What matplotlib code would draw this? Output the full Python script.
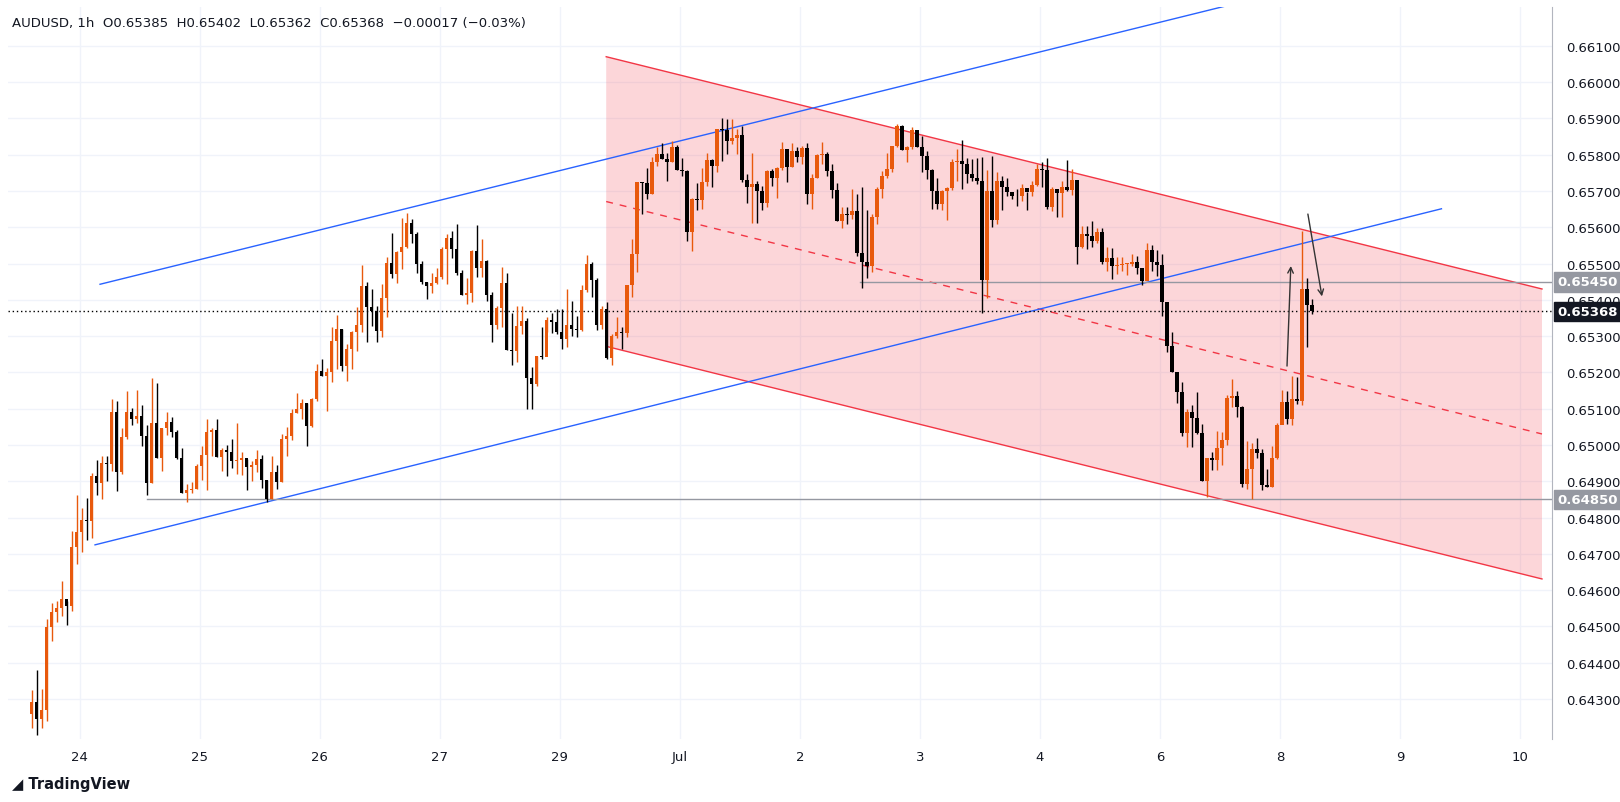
import numpy as np
import matplotlib
matplotlib.use("Agg")
import matplotlib.pyplot as plt
from matplotlib.patches import Polygon

# -- Data (AUDUSD 1h) ----------------------------------------------------------
CLOSE = [
    0.64291, 0.64246, 0.64270, 0.64498, 0.64539, 0.64550, 0.64576, 0.64556, 0.64718, 0.64760,
    0.64794, 0.64792, 0.64916, 0.64896, 0.64951, 0.64948, 0.65090, 0.64925, 0.65021, 0.65092,
    0.65072, 0.65079, 0.65026, 0.64896, 0.65061, 0.64965, 0.65047, 0.65064, 0.65037, 0.64964,
    0.64868, 0.64876, 0.64879, 0.64943, 0.64972, 0.65037, 0.65042, 0.64968, 0.64986, 0.64980,
    0.64957, 0.64959, 0.64965, 0.64940, 0.64946, 0.64961, 0.64905, 0.64851, 0.64925, 0.64899,
    0.65017, 0.65026, 0.65088, 0.65099, 0.65117, 0.65053, 0.65127, 0.65203, 0.65191, 0.65200,
    0.65287, 0.65321, 0.65218, 0.65264, 0.65312, 0.65330, 0.65439, 0.65379, 0.65370, 0.65315,
    0.65405, 0.65501, 0.65471, 0.65532, 0.65547, 0.65611, 0.65581, 0.65498, 0.65448, 0.65439,
    0.65446, 0.65462, 0.65540, 0.65570, 0.65540, 0.65475, 0.65413, 0.65420, 0.65535, 0.65487,
    0.65506, 0.65414, 0.65332, 0.65377, 0.65446, 0.65263, 0.65258, 0.65327, 0.65343, 0.65186,
    0.65168, 0.65244, 0.65242, 0.65344, 0.65340, 0.65312, 0.65292, 0.65330, 0.65320, 0.65318,
    0.65427, 0.65499, 0.65455, 0.65332, 0.65375, 0.65240, 0.65301, 0.65312, 0.65308, 0.65440,
    0.65526, 0.65724, 0.65721, 0.65693, 0.65781, 0.65802, 0.65788, 0.65781, 0.65820, 0.65758,
    0.65756, 0.65586, 0.65678, 0.65676, 0.65724, 0.65785, 0.65769, 0.65872, 0.65868, 0.65838,
    0.65847, 0.65854, 0.65731, 0.65710, 0.65719, 0.65701, 0.65668, 0.65756, 0.65735, 0.65763,
    0.65817, 0.65765, 0.65811, 0.65795, 0.65818, 0.65691, 0.65735, 0.65800, 0.65802, 0.65756,
    0.65703, 0.65618, 0.65636, 0.65634, 0.65644, 0.65529, 0.65505, 0.65494, 0.65627, 0.65705,
    0.65740, 0.65760, 0.65823, 0.65878, 0.65813, 0.65820, 0.65868, 0.65820, 0.65797, 0.65758,
    0.65701, 0.65664, 0.65701, 0.65707, 0.65780, 0.65782, 0.65774, 0.65746, 0.65735, 0.65728,
    0.65455, 0.65701, 0.65621, 0.65728, 0.65710, 0.65696, 0.65687, 0.65685, 0.65707, 0.65696,
    0.65716, 0.65760, 0.65758, 0.65655, 0.65705, 0.65694, 0.65712, 0.65703, 0.65730, 0.65546,
    0.65581, 0.65575, 0.65563, 0.65586, 0.65505, 0.65515, 0.65492, 0.65496, 0.65498, 0.65499,
    0.65505, 0.65487, 0.65453, 0.65538, 0.65505, 0.65497, 0.65393, 0.65274, 0.65202, 0.65147,
    0.65033, 0.65092, 0.65075, 0.65033, 0.64900, 0.64963, 0.64960, 0.64992, 0.65014, 0.65130,
    0.65136, 0.65104, 0.64894, 0.64934, 0.64989, 0.64978, 0.64890, 0.64885, 0.64963, 0.65055,
    0.65119, 0.65072, 0.65128, 0.65122, 0.65430, 0.65385, 0.65368,
]
HIGH = [
    0.64324, 0.64381, 0.64328, 0.64521, 0.64565, 0.64571, 0.64624, 0.64571, 0.64764, 0.64861,
    0.64827, 0.64854, 0.64922, 0.64959, 0.64971, 0.64971, 0.65127, 0.65122, 0.65047, 0.65150,
    0.65102, 0.65152, 0.65110, 0.65055, 0.65185, 0.65171, 0.65047, 0.65092, 0.65077, 0.65041,
    0.64991, 0.64893, 0.64897, 0.64948, 0.64998, 0.65072, 0.65046, 0.65072, 0.64992, 0.65000,
    0.65017, 0.65061, 0.64980, 0.64961, 0.64957, 0.64986, 0.64972, 0.64905, 0.64971, 0.64945,
    0.65030, 0.65050, 0.65099, 0.65143, 0.65127, 0.65117, 0.65129, 0.65223, 0.65237, 0.65211,
    0.65324, 0.65358, 0.65321, 0.65278, 0.65315, 0.65379, 0.65496, 0.65448, 0.65431, 0.65384,
    0.65443, 0.65517, 0.65584, 0.65535, 0.65625, 0.65639, 0.65622, 0.65587, 0.65508, 0.65448,
    0.65475, 0.65487, 0.65547, 0.65581, 0.65590, 0.65609, 0.65482, 0.65459, 0.65537, 0.65606,
    0.65567, 0.65510, 0.65422, 0.65384, 0.65491, 0.65474, 0.65363, 0.65384, 0.65384, 0.65349,
    0.65216, 0.65246, 0.65324, 0.65354, 0.65363, 0.65375, 0.65375, 0.65430, 0.65398, 0.65356,
    0.65442, 0.65523, 0.65503, 0.65460, 0.65384, 0.65395, 0.65306, 0.65352, 0.65324, 0.65441,
    0.65569, 0.65724, 0.65726, 0.65763, 0.65795, 0.65822, 0.65832, 0.65806, 0.65838, 0.65826,
    0.65792, 0.65758, 0.65681, 0.65722, 0.65763, 0.65806, 0.65788, 0.65872, 0.65902, 0.65898,
    0.65898, 0.65870, 0.65880, 0.65746, 0.65804, 0.65728, 0.65713, 0.65758, 0.65760, 0.65765,
    0.65834, 0.65813, 0.65831, 0.65822, 0.65824, 0.65831, 0.65746, 0.65802, 0.65834, 0.65808,
    0.65774, 0.65721, 0.65655, 0.65655, 0.65705, 0.65691, 0.65710, 0.65647, 0.65636, 0.65710,
    0.65756, 0.65806, 0.65823, 0.65884, 0.65881, 0.65824, 0.65875, 0.65864, 0.65852, 0.65809,
    0.65760, 0.65737, 0.65703, 0.65710, 0.65787, 0.65817, 0.65840, 0.65792, 0.65788, 0.65790,
    0.65795, 0.65758, 0.65797, 0.65753, 0.65742, 0.65735, 0.65698, 0.65705, 0.65719, 0.65698,
    0.65728, 0.65774, 0.65779, 0.65790, 0.65710, 0.65701, 0.65728, 0.65785, 0.65760, 0.65730,
    0.65604, 0.65604, 0.65616, 0.65597, 0.65597, 0.65547, 0.65543, 0.65517, 0.65517, 0.65501,
    0.65526, 0.65521, 0.65488, 0.65556, 0.65551, 0.65537, 0.65526, 0.65393, 0.65312, 0.65202,
    0.65174, 0.65099, 0.65109, 0.65147, 0.65057, 0.64963, 0.64980, 0.65038, 0.65037, 0.65139,
    0.65182, 0.65148, 0.65108, 0.65012, 0.65005, 0.65019, 0.64989, 0.64934, 0.64996, 0.65061,
    0.65151, 0.65150, 0.65191, 0.65187, 0.65590, 0.65460, 0.65402,
]
LOW = [
    0.64220, 0.64200, 0.64220, 0.64240, 0.64461, 0.64512, 0.64528, 0.64505, 0.64544, 0.64671,
    0.64705, 0.64739, 0.64744, 0.64863, 0.64850, 0.64902, 0.64929, 0.64872, 0.64920, 0.65017,
    0.65056, 0.65061, 0.64996, 0.64861, 0.64896, 0.64965, 0.64929, 0.65029, 0.65023, 0.64962,
    0.64868, 0.64842, 0.64868, 0.64879, 0.64905, 0.64876, 0.64971, 0.64968, 0.64929, 0.64916,
    0.64937, 0.64920, 0.64918, 0.64877, 0.64902, 0.64927, 0.64881, 0.64842, 0.64851, 0.64879,
    0.64899, 0.64971, 0.65015, 0.65088, 0.65072, 0.64998, 0.65051, 0.65122, 0.65191, 0.65095,
    0.65173, 0.65209, 0.65205, 0.65177, 0.65209, 0.65260, 0.65312, 0.65285, 0.65329, 0.65285,
    0.65298, 0.65352, 0.65461, 0.65446, 0.65485, 0.65543, 0.65556, 0.65475, 0.65443, 0.65402,
    0.65420, 0.65443, 0.65457, 0.65443, 0.65515, 0.65469, 0.65413, 0.65388, 0.65395, 0.65462,
    0.65464, 0.65396, 0.65285, 0.65320, 0.65326, 0.65263, 0.65221, 0.65230, 0.65305, 0.65099,
    0.65099, 0.65163, 0.65237, 0.65312, 0.65310, 0.65306, 0.65266, 0.65269, 0.65301, 0.65298,
    0.65313, 0.65421, 0.65409, 0.65318, 0.65320, 0.65237, 0.65221, 0.65295, 0.65264, 0.65299,
    0.65407, 0.65477, 0.65636, 0.65678, 0.65693, 0.65770, 0.65788, 0.65728, 0.65779, 0.65757,
    0.65742, 0.65563, 0.65535, 0.65648, 0.65650, 0.65714, 0.65710, 0.65753, 0.65783, 0.65802,
    0.65829, 0.65803, 0.65725, 0.65668, 0.65613, 0.65613, 0.65648, 0.65655, 0.65713, 0.65680,
    0.65758, 0.65724, 0.65765, 0.65779, 0.65774, 0.65664, 0.65650, 0.65735, 0.65774, 0.65742,
    0.65682, 0.65618, 0.65597, 0.65608, 0.65623, 0.65522, 0.65432, 0.65459, 0.65478, 0.65609,
    0.65682, 0.65735, 0.65753, 0.65820, 0.65813, 0.65780, 0.65817, 0.65820, 0.65753, 0.65733,
    0.65650, 0.65650, 0.65648, 0.65620, 0.65703, 0.65728, 0.65705, 0.65723, 0.65728, 0.65719,
    0.65363, 0.65404, 0.65602, 0.65609, 0.65648, 0.65687, 0.65678, 0.65659, 0.65673, 0.65648,
    0.65687, 0.65714, 0.65712, 0.65650, 0.65644, 0.65627, 0.65627, 0.65700, 0.65690, 0.65500,
    0.65543, 0.65540, 0.65546, 0.65558, 0.65500, 0.65480, 0.65457, 0.65471, 0.65480, 0.65469,
    0.65492, 0.65471, 0.65441, 0.65480, 0.65480, 0.65466, 0.65356, 0.65257, 0.65202, 0.65115,
    0.65026, 0.64995, 0.64994, 0.65030, 0.64900, 0.64856, 0.64932, 0.64931, 0.64946, 0.65001,
    0.65104, 0.65076, 0.64885, 0.64879, 0.64851, 0.64963, 0.64876, 0.64883, 0.64885, 0.64961,
    0.65062, 0.65058, 0.65055, 0.65113, 0.65110, 0.65270, 0.65362,
]
OPEN_FIRST = 0.64260
LAST_OPEN = 0.65385

DAY_LABELS = ["24", "25", "26", "27", "29", "Jul", "2", "3", "4", "6", "8", "9", "10"]
PRICE_TICKS = [0.643 + 0.001 * k for k in range(19)]

# drawings: (bar index, price) pairs
BLUE_LOW = [(12.7, 0.64725), (281.9, 0.65651)]
BLUE_HIGH = [(13.7, 0.65443), (245.0, 0.66231)]
CH_X = [114.9, 302.0]
CH_UPPER = [0.66070, 0.65430]
CH_LOWER = [0.65272, 0.64631]
H_LEVELS = [(165.7, 0.6545), (23.0, 0.6485)]
LAST_PRICE = 0.65368
ARROW_UP = [(251.0, 0.65210), (251.8, 0.65501)]
ARROW_DN = [(255.1, 0.65644), (258.1, 0.65402)]

UP_COL = "#e8590c"
DN_COL = "#000000"
RED = "#f23645"
BLUE = "#2962ff"

# -- Figure ---------------------------------------------------------------------
fig = plt.figure(figsize=(16.2, 8.03), dpi=100)
ax = fig.add_axes([8 / 1620, 63 / 803, (1552 - 8) / 1620, (740 - 8) / 803])

n = len(CLOSE)
idx = np.arange(n)
opens = np.array([OPEN_FIRST] + CLOSE[:-1])
opens[-1] = LAST_OPEN
closes = np.array(CLOSE)
up = closes >= opens
cols = np.where(up, UP_COL, DN_COL)

ax.vlines(idx, LOW, HIGH, colors=cols, linewidth=1.0, zorder=3)
body_lo = np.minimum(opens, closes)
body_h = np.maximum(np.abs(closes - opens), 0.000025)
ax.bar(idx, body_h, bottom=body_lo, width=0.72, color=cols, linewidth=0, zorder=4)

# channel
poly = Polygon([(CH_X[0], CH_UPPER[0]), (CH_X[1], CH_UPPER[1]),
                (CH_X[1], CH_LOWER[1]), (CH_X[0], CH_LOWER[0])],
               closed=True, facecolor=RED, alpha=0.2, edgecolor="none", zorder=1)
ax.add_patch(poly)
ax.plot(CH_X, CH_UPPER, color=RED, lw=1, zorder=2)
ax.plot(CH_X, CH_LOWER, color=RED, lw=1, zorder=2)
ax.plot(CH_X, [(a + b) / 2 for a, b in zip(CH_UPPER, CH_LOWER)], color=RED,
        lw=1, ls=(0, (5, 5)), zorder=2)

# blue trendlines
for ln in (BLUE_LOW, BLUE_HIGH):
    ax.plot([p[0] for p in ln], [p[1] for p in ln], color=BLUE, lw=1, zorder=2)

# horizontal levels
xmin, xmax = -4.7, 304.0
for x0, lvl in H_LEVELS:
    ax.plot([x0, xmax], [lvl, lvl], color="#9598a1", lw=1, zorder=2)
ax.axhline(LAST_PRICE, color="black", lw=1, ls=(0, (1, 2)), zorder=2)

# arrows
for (x0, y0), (x1, y1) in (ARROW_UP, ARROW_DN):
    ax.annotate("", xy=(x1, y1), xytext=(x0, y0),
                arrowprops=dict(arrowstyle="->", color="#333333", lw=1), zorder=5)

ax.set_xlim(xmin, xmax)
ax.set_ylim(0.64190, 0.66207)

ax.set_xticks([9.6 + 24 * k for k in range(len(DAY_LABELS))])
ax.set_xticklabels(DAY_LABELS)
ax.set_yticks(PRICE_TICKS)
ax.set_yticklabels([f"{t:.5f}" for t in PRICE_TICKS])
ax.yaxis.tick_right()
ax.tick_params(axis="both", length=0, labelsize=9.5, colors="#131722")
ax.tick_params(axis="y", pad=10)
ax.tick_params(axis="x", pad=8)
ax.grid(True, color="#f0f3fa", lw=1, zorder=0)
ax.set_axisbelow(True)
for side in ("top", "left", "bottom"):
    ax.spines[side].set_visible(False)
ax.spines["right"].set_color("#b2b5be")

# price labels on axis
for lvl, bg in ((0.6545, "#9598a1"), (LAST_PRICE, "#131722"), (0.6485, "#9598a1")):
    ax.annotate(f"{lvl:.5f}", xy=(1.0, lvl), xycoords=("axes fraction", "data"),
                xytext=(4, 0), textcoords="offset points", va="center", ha="left",
                fontsize=9.5, color="white", fontweight="bold",
                bbox=dict(boxstyle="square,pad=0.25", fc=bg, ec=bg), zorder=6)

fig.text(12 / 1620, 1 - 24 / 803,
         "AUDUSD, 1h  O0.65385  H0.65402  L0.65362  C0.65368  \u22120.00017 (\u22120.03%)",
         fontsize=9.5, color="#131722", va="center")
fig.text(12 / 1620, 1 - 785 / 803, "\u25e2 TradingView", fontsize=10.5,
         fontweight="bold", color="#131722", va="center")

fig.savefig("out.png", dpi=100, facecolor="white")
